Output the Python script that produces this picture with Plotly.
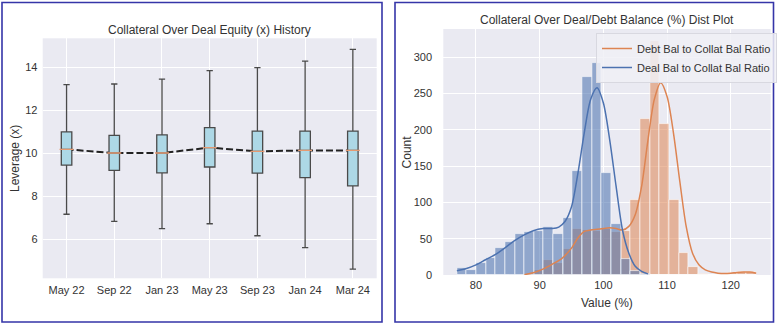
import numpy as np
import plotly.graph_objects as go

# ---------------- Leverage history (box summary per snapshot) ----------------
periods = ["May 22", "Sep 22", "Jan 23", "May 23", "Sep 23", "Jan 24", "Mar 24"]
lev_low = [7.15, 6.82, 6.48, 6.71, 6.15, 5.60, 4.60]
lev_q1 = [9.44, 9.19, 9.08, 9.35, 9.06, 8.85, 8.47]
lev_median = [10.17, 10.00, 10.00, 10.25, 10.08, 10.12, 10.12]
lev_q3 = [10.98, 10.82, 10.84, 11.18, 11.02, 11.02, 11.02]
lev_high = [13.18, 13.21, 13.44, 13.83, 13.97, 14.27, 14.82]

# ---------------- Balance ratio distributions (shared bins) ----------------
bin_start = 77.0
bin_end = 124.0
bin_count = 31
deal_counts = [10, 7, 17, 24, 37, 45, 57, 59, 60, 66, 56, 79, 144, 273, 292, 141,
               70, 22, 5, 1, 0, 0, 0, 0, 0, 0, 0, 0, 0, 0, 0]
debt_counts = [0, 0, 0, 0, 0, 0, 0, 1, 7, 21, 16, 36, 64, 62, 61, 64,
               59, 60, 104, 215, 322, 208, 104, 30, 11, 1, 0, 1, 3, 4, 4]

# Kernel density curves, scaled to counts
deal_kde_x = [77, 78.5, 80, 81.5, 83, 84.5, 86, 87.5, 89, 90.5, 92, 93, 94, 95, 96,
              97, 98, 99, 100, 101, 102, 103, 104, 105, 106, 107]
deal_kde_y = [6, 9, 14, 21, 28, 37, 47, 55, 61, 64, 64, 66, 74, 94, 140,
              196, 242, 258, 237, 186, 122, 62, 30, 12, 5, 1.5]
debt_kde_x = [87.6, 89, 90.5, 92, 93.5, 95, 96, 97, 98, 99, 100, 101, 102, 103, 104,
              105, 106, 107, 108, 109, 110, 111, 112, 113, 114, 115, 116, 117, 118,
              119, 120, 121, 122, 123, 124]
debt_kde_y = [0.5, 3, 8, 15, 23, 37, 51, 60, 62, 63, 64, 65, 64, 62, 67,
              83, 122, 186, 242, 265, 246, 196, 129, 67, 30, 14, 7, 4, 2.5,
              2, 2.5, 3.5, 4, 4, 2.5]

W, H = 778, 326
BG = "#EAEAF2"
TXT = "#333333"
FONT = "Liberation Sans, Arial, sans-serif"
BLUE = "#4C72B0"
ORANGE = "#DD8452"


def px(x):
    return x / W


def py(y):
    return 1 - y / H


edges = np.linspace(bin_start, bin_end, bin_count + 1)
centers = (edges[:-1] + edges[1:]) / 2
bw = edges[1] - edges[0]

fig = go.Figure()

# Median trend line (drawn beneath the boxes)
fig.add_trace(go.Scatter(
    x=periods, y=lev_median, mode="lines", xaxis="x", yaxis="y",
    line=dict(color="#222222", width=2, dash="7px,3px"), showlegend=False,
    hoverinfo="skip"))

# Boxes on an overlaid axis pair so they sit above the trend line
fig.add_trace(go.Box(
    x=periods, q1=lev_q1, median=lev_median, q3=lev_q3,
    lowerfence=lev_low, upperfence=lev_high,
    xaxis="x3", yaxis="y3", width=0.22, whiskerwidth=0.6,
    fillcolor="#ADD8E6", line=dict(color="#4A4A4A", width=1.3),
    boxpoints=False, showlegend=False))
fig.add_trace(go.Scatter(
    x=periods, y=lev_median, mode="markers", xaxis="x3", yaxis="y3",
    marker=dict(symbol="line-ew", size=10,
                line=dict(color="#E59A72", width=1.3)),
    showlegend=False, hoverinfo="skip"))

# Histograms
fig.add_trace(go.Bar(
    x=centers, y=debt_counts, width=bw, xaxis="x2", yaxis="y2",
    marker=dict(color="rgba(221,132,82,0.55)",
                line=dict(color="rgba(255,255,255,0.75)", width=0.8)),
    showlegend=False))
fig.add_trace(go.Bar(
    x=centers, y=deal_counts, width=bw, xaxis="x2", yaxis="y2",
    marker=dict(color="rgba(76,114,176,0.57)",
                line=dict(color="rgba(255,255,255,0.75)", width=0.8)),
    showlegend=False))

fig.add_trace(go.Scatter(
    x=debt_kde_x, y=debt_kde_y, mode="lines", xaxis="x2", yaxis="y2",
    line=dict(color=ORANGE, width=1.5, shape="spline", smoothing=0.8),
    name="Debt Bal to Collat Bal Ratio", legendrank=1))
fig.add_trace(go.Scatter(
    x=deal_kde_x, y=deal_kde_y, mode="lines", xaxis="x2", yaxis="y2",
    line=dict(color=BLUE, width=1.5, shape="spline", smoothing=0.8),
    name="Deal Bal to Collat Bal Ratio", legendrank=2))

axis_common = dict(showgrid=True, gridcolor="white", gridwidth=1, zeroline=False,
                   showline=False, ticks="outside", tickcolor="rgba(0,0,0,0)",
                   automargin=False,
                   tickfont=dict(size=11, color=TXT, family=FONT))

lev_range = [4.172, 15.335]
left_dom_x = [px(42.7), px(376.7)]
left_dom_y = [py(278.3), py(38.3)]

fig.update_layout(
    width=W, height=H, autosize=False,
    margin=dict(l=0, r=0, t=0, b=0, pad=0, autoexpand=False),
    paper_bgcolor="white", plot_bgcolor=BG,
    font=dict(family=FONT, color=TXT),
    barmode="overlay", bargap=0,
    xaxis=dict(domain=left_dom_x, anchor="y", type="category",
               categoryarray=periods, range=[-0.5, 6.5], ticklen=1, **axis_common),
    yaxis=dict(domain=left_dom_y, anchor="x", range=lev_range,
               tickvals=[6, 8, 10, 12, 14], ticklen=2, **axis_common),
    xaxis3=dict(overlaying="x", anchor="y3", type="category",
                categoryarray=periods, range=[-0.5, 6.5], visible=False),
    yaxis3=dict(overlaying="y", anchor="x3", range=lev_range, visible=False),
    xaxis2=dict(domain=[px(443.3), px(770.7)], anchor="y2", range=[74.87, 126.27],
                tickvals=[80, 90, 100, 110, 120], ticklen=0, **axis_common),
    yaxis2=dict(domain=[py(275), py(29)], anchor="x2", range=[0, 339],
                tickvals=[0, 50, 100, 150, 200, 250, 300], ticklen=8, **axis_common),
    legend=dict(x=px(596), y=py(33), xanchor="left", yanchor="top",
                bgcolor="rgba(240,240,246,0.85)", bordercolor="#D8D8E0",
                borderwidth=1, font=dict(size=11, color=TXT, family=FONT),
                itemwidth=30, tracegroupgap=2),
)

ann = dict(xref="paper", yref="paper", showarrow=False,
           font=dict(family=FONT, color=TXT, size=12))
fig.add_annotation(text="Collateral Over Deal Equity (x) History",
                   x=px(209.7), y=py(30), xanchor="center", yanchor="middle", **ann)
fig.add_annotation(text="Collateral Over Deal/Debt Balance (%) Dist Plot",
                   x=px(607), y=py(20), xanchor="center", yanchor="middle", **ann)
fig.add_annotation(text="Leverage (x)", x=px(15), y=py(159), textangle=-90,
                   xanchor="center", yanchor="middle", **ann)
fig.add_annotation(text="Count", x=px(406.7), y=py(151.7), textangle=-90,
                   xanchor="center", yanchor="middle", **ann)
fig.add_annotation(text="Value (%)", x=px(606.7), y=py(303),
                   xanchor="center", yanchor="middle", **ann)

# Panel frames
for x0, x1 in [(2, 382), (395, 773.5)]:
    fig.add_shape(type="rect", xref="paper", yref="paper",
                  x0=px(x0), x1=px(x1), y0=py(322), y1=py(2.5),
                  line=dict(color="#3535A8", width=1.6), layer="above")

fig.write_html("out.html")
